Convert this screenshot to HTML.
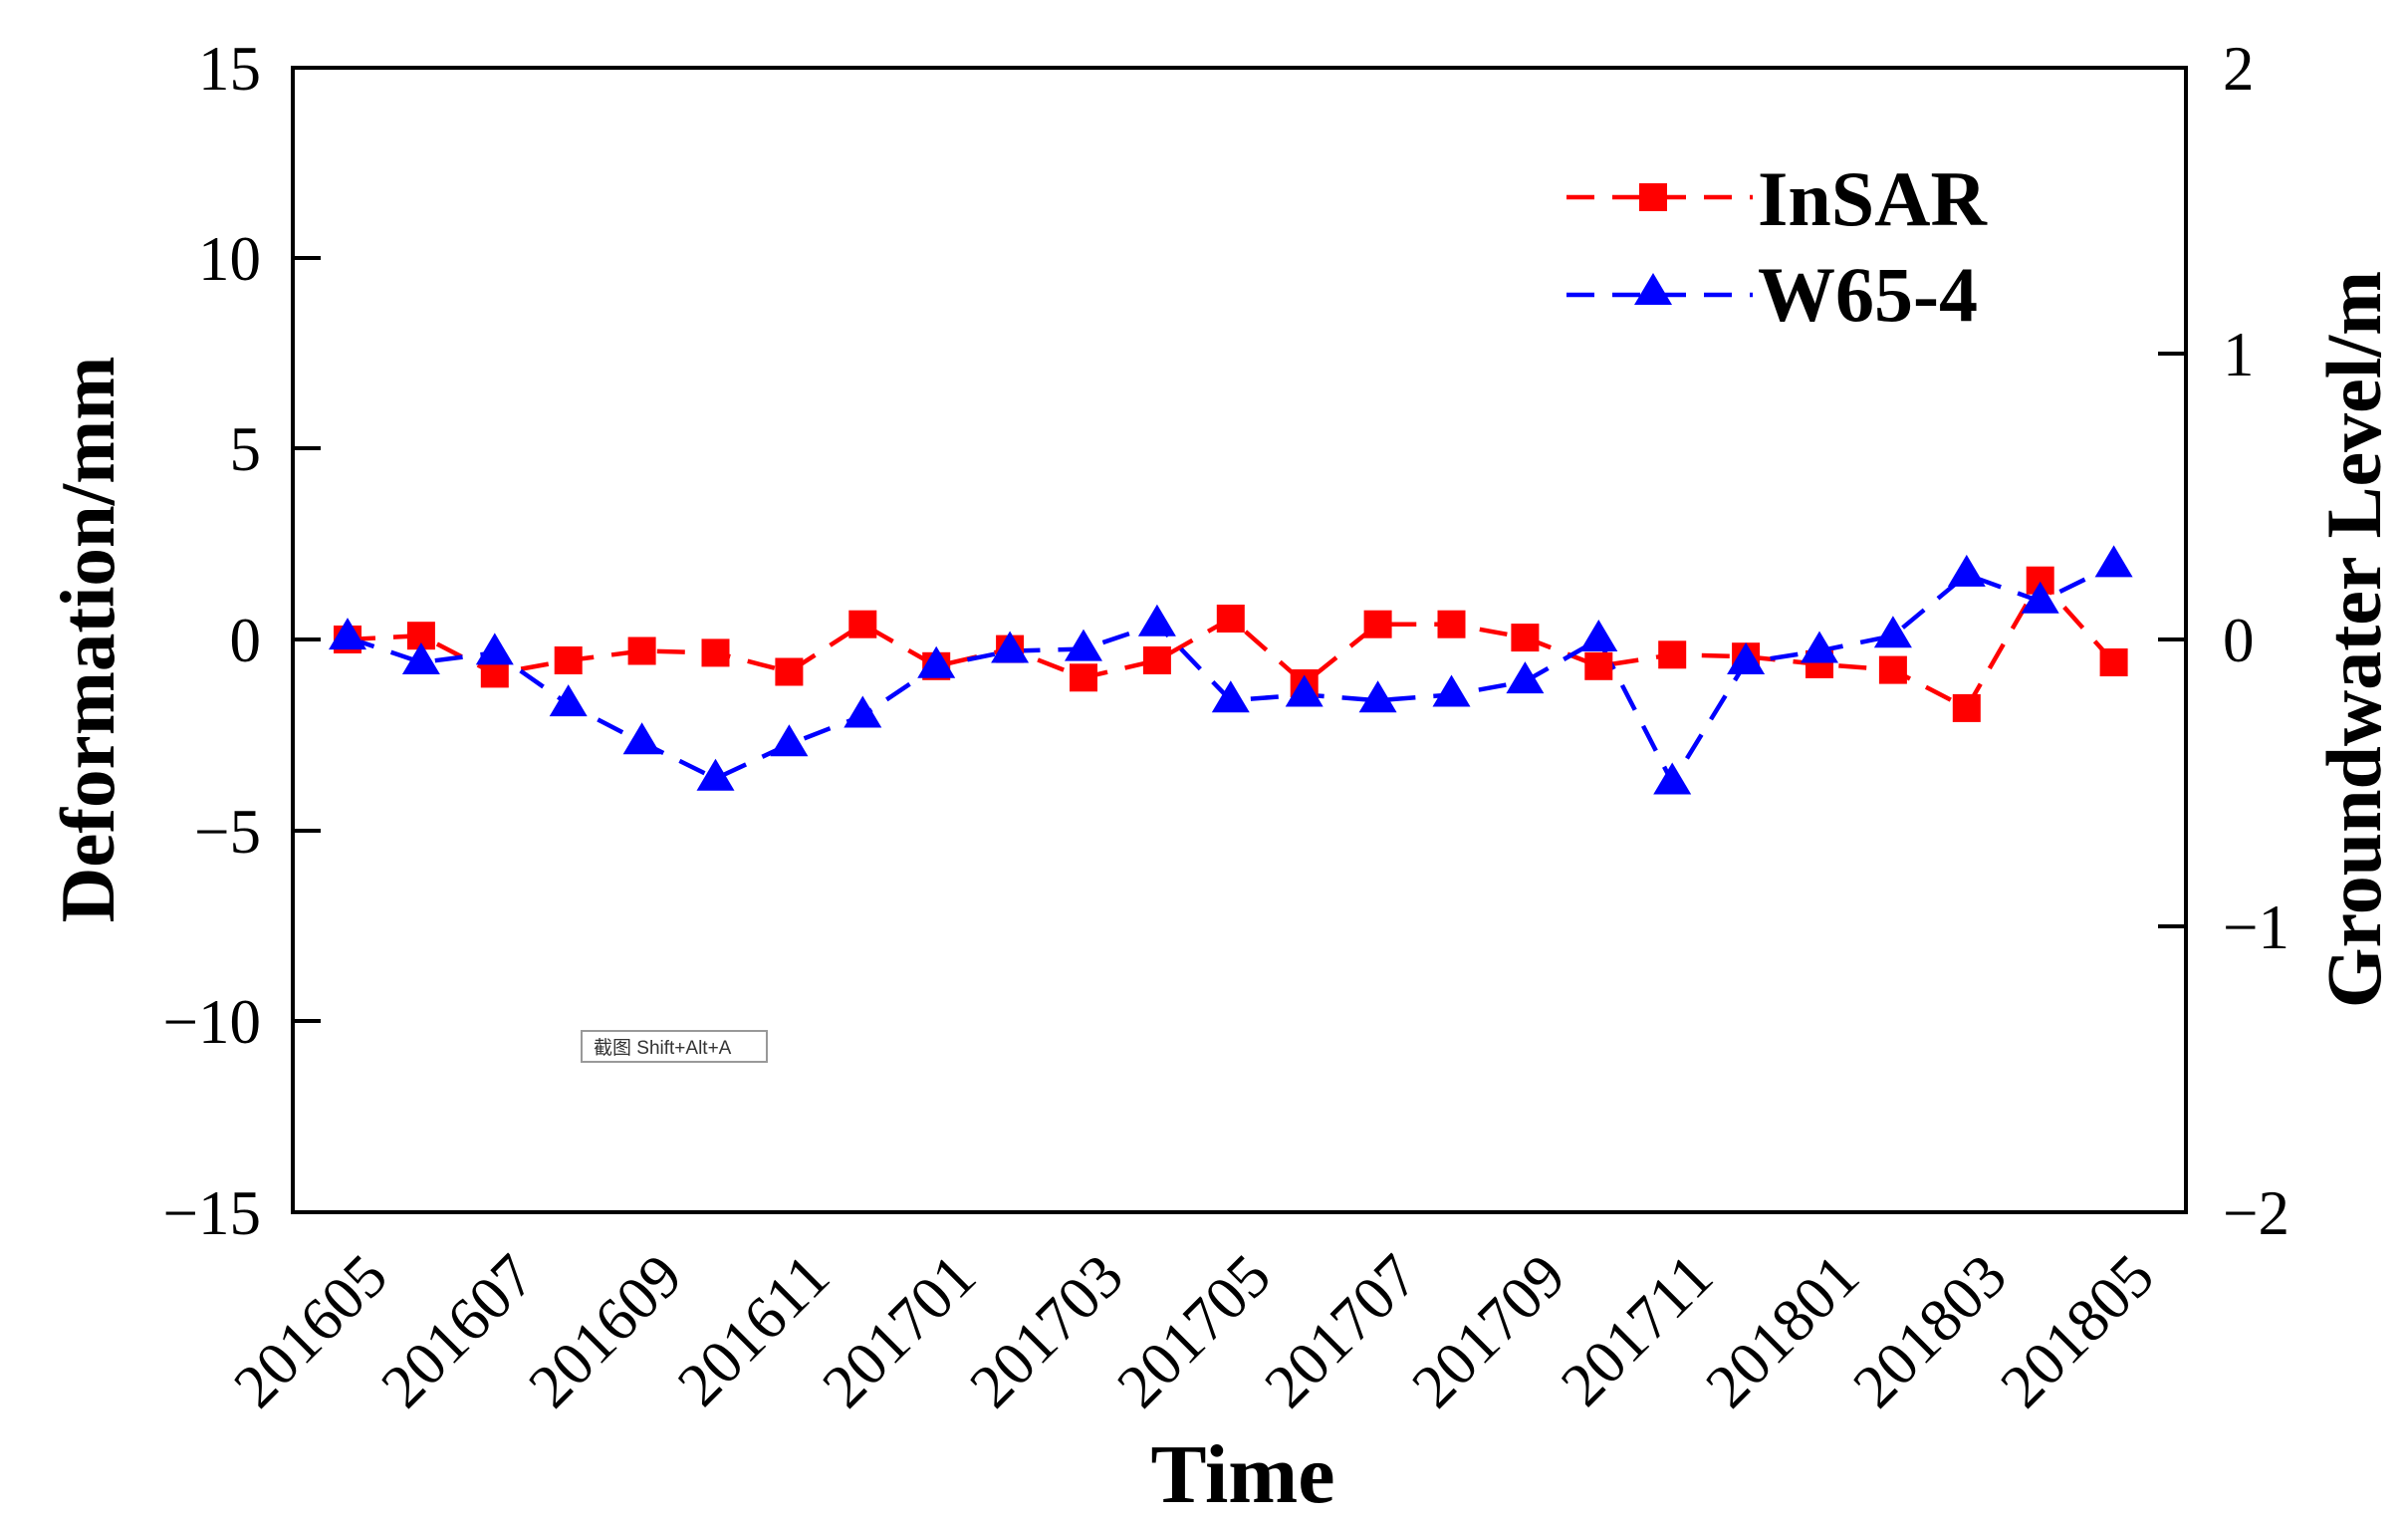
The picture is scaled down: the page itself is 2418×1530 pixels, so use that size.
<!DOCTYPE html>
<html><head><meta charset="utf-8"><style>body{margin:0;background:#fff}svg{display:block}</style></head>
<body>
<svg width="2418" height="1530" viewBox="0 0 2418 1530" xmlns="http://www.w3.org/2000/svg" xmlns:xlink="http://www.w3.org/1999/xlink" font-family="'Liberation Serif','Noto Serif CJK SC',serif">
<defs>
<rect id="sq" x="-14" y="-14" width="28" height="28" fill="#f00"/>
<polygon id="tri" points="0,-20 19,12 -19,12" fill="#00f"/>
</defs>
<rect width="2418" height="1530" fill="#fff"/>
<rect x="294" y="68" width="1901" height="1149" fill="none" stroke="#000" stroke-width="4"/>
<g stroke="#000" stroke-width="4">
<line x1="294" y1="259" x2="322" y2="259"/><line x1="294" y1="450" x2="322" y2="450"/><line x1="294" y1="642" x2="322" y2="642"/><line x1="294" y1="834" x2="322" y2="834"/><line x1="294" y1="1025" x2="322" y2="1025"/>
<line x1="2195" y1="355" x2="2167" y2="355"/><line x1="2195" y1="642" x2="2167" y2="642"/><line x1="2195" y1="930" x2="2167" y2="930"/>
</g>
<g font-size="63" text-anchor="end" fill="#000">
<text x="262" y="90">15</text><text x="262" y="281">10</text><text x="262" y="472">5</text><text x="262" y="664">0</text><text x="262" y="856">−5</text><text x="262" y="1047">−10</text><text x="262" y="1239">−15</text>
</g>
<g font-size="63" text-anchor="start" fill="#000">
<text x="2232" y="90">2</text><text x="2232" y="377">1</text><text x="2232" y="664">0</text><text x="2232" y="952">−1</text><text x="2232" y="1239">−2</text>
</g>
<text transform="translate(114,642) rotate(-90)" font-size="77" font-weight="bold" text-anchor="middle">Deformation/mm</text>
<text transform="translate(2390,642) rotate(-90)" font-size="78" font-weight="bold" text-anchor="middle">Groundwater Level/m</text>
<text x="1248" y="1508" font-size="84" font-weight="bold" text-anchor="middle">Time</text>
<g font-size="62" text-anchor="end">
<text transform="translate(392,1285) rotate(-45)">201605</text>
<text transform="translate(540,1285) rotate(-45)">201607</text>
<text transform="translate(688,1285) rotate(-45)">201609</text>
<text transform="translate(836,1285) rotate(-45)">201611</text>
<text transform="translate(983,1285) rotate(-45)">201701</text>
<text transform="translate(1131,1285) rotate(-45)">201703</text>
<text transform="translate(1279,1285) rotate(-45)">201705</text>
<text transform="translate(1427,1285) rotate(-45)">201707</text>
<text transform="translate(1575,1285) rotate(-45)">201709</text>
<text transform="translate(1723,1285) rotate(-45)">201711</text>
<text transform="translate(1870,1285) rotate(-45)">201801</text>
<text transform="translate(2018,1285) rotate(-45)">201803</text>
<text transform="translate(2166,1285) rotate(-45)">201805</text>
</g>
<polyline fill="none" stroke="#f00" stroke-width="4.5" stroke-dasharray="28,18" points="349,642 422.9,638.2 496.8,676.4 570.7,663 644.6,653.5 718.5,655.4 792.4,674.5 866.3,626.7 940.2,668.8 1014.1,651.6 1088,680.3 1161.9,663 1235.8,621 1309.7,686 1383.6,626.7 1457.5,626.7 1531.4,640.1 1605.3,668.8 1679.2,657.3 1753.1,659.2 1827,666.9 1900.9,672.6 1974.8,710.9 2048.7,582.7 2122.6,665"/>
<polyline fill="none" stroke="#00f" stroke-width="4.5" stroke-dasharray="28,18" points="349,640.1 422.9,665 496.8,655.4 570.7,707.1 644.6,745.3 718.5,781.7 792.4,747.2 866.3,718.5 940.2,668.8 1014.1,653.5 1088,651.6 1161.9,626.7 1235.8,703.2 1309.7,697.5 1383.6,703.2 1457.5,697.5 1531.4,684.1 1605.3,642 1679.2,785.5 1753.1,665 1827,653.5 1900.9,638.2 1974.8,576.9 2048.7,603.7 2122.6,567.4"/>
<g>
<use href="#sq" x="349" y="642"/><use href="#sq" x="422.9" y="638.2"/><use href="#sq" x="496.8" y="676.4"/><use href="#sq" x="570.7" y="663"/><use href="#sq" x="644.6" y="653.5"/><use href="#sq" x="718.5" y="655.4"/><use href="#sq" x="792.4" y="674.5"/><use href="#sq" x="866.3" y="626.7"/><use href="#sq" x="940.2" y="668.8"/><use href="#sq" x="1014.1" y="651.6"/><use href="#sq" x="1088" y="680.3"/><use href="#sq" x="1161.9" y="663"/><use href="#sq" x="1235.8" y="621"/><use href="#sq" x="1309.7" y="686"/><use href="#sq" x="1383.6" y="626.7"/><use href="#sq" x="1457.5" y="626.7"/><use href="#sq" x="1531.4" y="640.1"/><use href="#sq" x="1605.3" y="668.8"/><use href="#sq" x="1679.2" y="657.3"/><use href="#sq" x="1753.1" y="659.2"/><use href="#sq" x="1827" y="666.9"/><use href="#sq" x="1900.9" y="672.6"/><use href="#sq" x="1974.8" y="710.9"/><use href="#sq" x="2048.7" y="582.7"/><use href="#sq" x="2122.6" y="665"/>
</g>
<g>
<use href="#tri" x="349" y="640.1"/><use href="#tri" x="422.9" y="665"/><use href="#tri" x="496.8" y="655.4"/><use href="#tri" x="570.7" y="707.1"/><use href="#tri" x="644.6" y="745.3"/><use href="#tri" x="718.5" y="781.7"/><use href="#tri" x="792.4" y="747.2"/><use href="#tri" x="866.3" y="718.5"/><use href="#tri" x="940.2" y="668.8"/><use href="#tri" x="1014.1" y="653.5"/><use href="#tri" x="1088" y="651.6"/><use href="#tri" x="1161.9" y="626.7"/><use href="#tri" x="1235.8" y="703.2"/><use href="#tri" x="1309.7" y="697.5"/><use href="#tri" x="1383.6" y="703.2"/><use href="#tri" x="1457.5" y="697.5"/><use href="#tri" x="1531.4" y="684.1"/><use href="#tri" x="1605.3" y="642"/><use href="#tri" x="1679.2" y="785.5"/><use href="#tri" x="1753.1" y="665"/><use href="#tri" x="1827" y="653.5"/><use href="#tri" x="1900.9" y="638.2"/><use href="#tri" x="1974.8" y="576.9"/><use href="#tri" x="2048.7" y="603.7"/><use href="#tri" x="2122.6" y="567.4"/>
</g>
<rect x="584" y="1035" width="186" height="31" fill="#fff" stroke="#999" stroke-width="2"/>
<text x="596" y="1058" font-size="19" font-family="'Liberation Sans','Noto Sans CJK SC',sans-serif" fill="#333">截图 Shift+Alt+A</text>
<line x1="1573" y1="198" x2="1760" y2="198" stroke="#f00" stroke-width="4.5" stroke-dasharray="28,18"/>
<use href="#sq" x="1660" y="198"/>
<text x="1765" y="226" font-size="78" font-weight="bold">InSAR</text>
<line x1="1573" y1="296" x2="1760" y2="296" stroke="#00f" stroke-width="4.5" stroke-dasharray="28,18"/>
<use href="#tri" x="1660" y="294"/>
<text x="1765" y="322" font-size="78" font-weight="bold">W65-4</text>
</svg>
</body></html>
